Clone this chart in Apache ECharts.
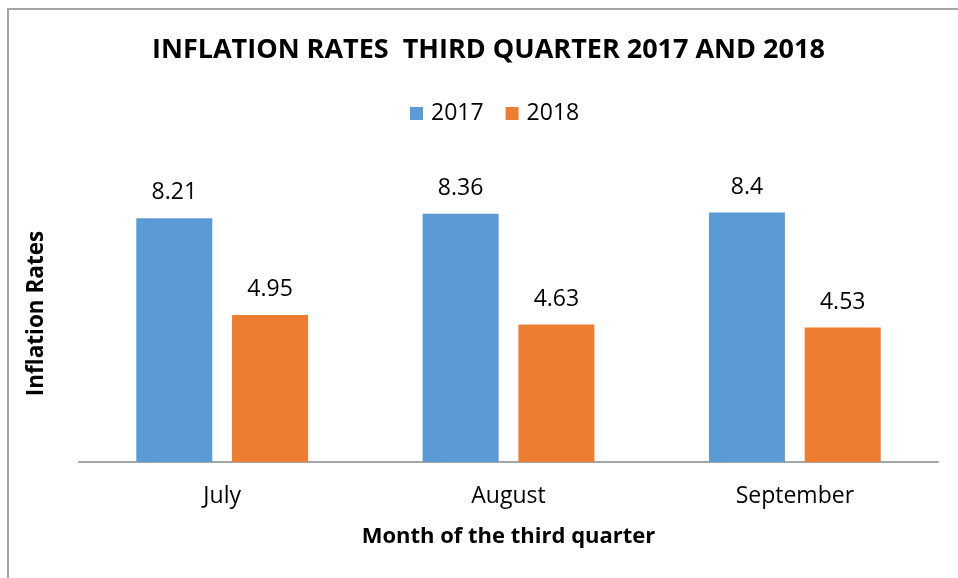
<!DOCTYPE html>
<html>
<head>
<meta charset="utf-8">
<script src="https://cdn.jsdelivr.net/npm/echarts@6/dist/echarts.min.js"></script>
<style>
  html, body { margin: 0; padding: 0; background: #fff; }
  #chart { width: 958px; height: 578px; }
</style>
</head>
<body>
<div id="chart"></div>
<script>
// data
const months = ["July", "August", "September"]
const rates2017 = [8.21, 8.36, 8.4]
const rates2018 = [4.95, 4.63, 4.53]
const seriesNames = ["2017", "2018"]

const font = "'Open Sans', sans-serif"
const colors = ["#5B9BD5", "#ED7D31"]

const chart = echarts.init(document.getElementById("chart"))

const labelStyle = {
  show: true,
  position: "top",
  distance: 14,
  color: "#000",
  fontFamily: font,
  fontSize: 23,
}

const option = {
  animation: false,
  color: colors,
  title: {
    text: "INFLATION RATES  THIRD QUARTER 2017 AND 2018",
    left: 147,
    top: 32,
    textStyle: {
      fontFamily: font,
      fontWeight: "bold",
      fontSize: 27,
      color: "#000",
    },
  },
  legend: {
    data: seriesNames,
    top: 97,
    left: 405,
    icon: "rect",
    itemWidth: 13,
    itemHeight: 13,
    itemGap: 22,
    textStyle: { fontFamily: font, fontSize: 23, color: "#000", padding: [0, 0, 0, 3] },
  },
  grid: { left: 79, right: 20, top: 165, bottom: 116 },
  xAxis: {
    type: "category",
    data: months,
    name: "Month of the third quarter",
    nameLocation: "middle",
    nameGap: 64,
    nameTextStyle: { fontFamily: font, fontWeight: "bold", fontSize: 22, color: "#000" },
    axisLine: { lineStyle: { color: "#A6A6A6", width: 2 } },
    axisTick: { show: false },
    axisLabel: { fontFamily: font, fontSize: 23, color: "#000", margin: 23 },
  },
  yAxis: {
    type: "value",
    min: 0,
    max: 10,
    name: "Inflation Rates",
    nameLocation: "middle",
    nameGap: 31,
    nameTextStyle: { fontFamily: font, fontWeight: "bold", fontSize: 22.5, color: "#000" },
    axisLine: { show: false },
    axisTick: { show: false },
    axisLabel: { show: false },
    splitLine: { show: false },
  },
  series: [
    {
      name: seriesNames[0],
      type: "bar",
      data: rates2017,
      barWidth: 76,
      barGap: "26%",
      label: labelStyle,
    },
    {
      name: seriesNames[1],
      type: "bar",
      data: rates2018,
      barWidth: 76,
      label: labelStyle,
    },
  ],
  graphic: [
    {
      type: "polyline",
      shape: { points: [[8, 578], [8, 9], [958, 9]] },
      style: { stroke: "#A6A6A6", lineWidth: 2, fill: null },
      silent: true,
    },
  ],
}

chart.setOption(option)
</script>
</body>
</html>
